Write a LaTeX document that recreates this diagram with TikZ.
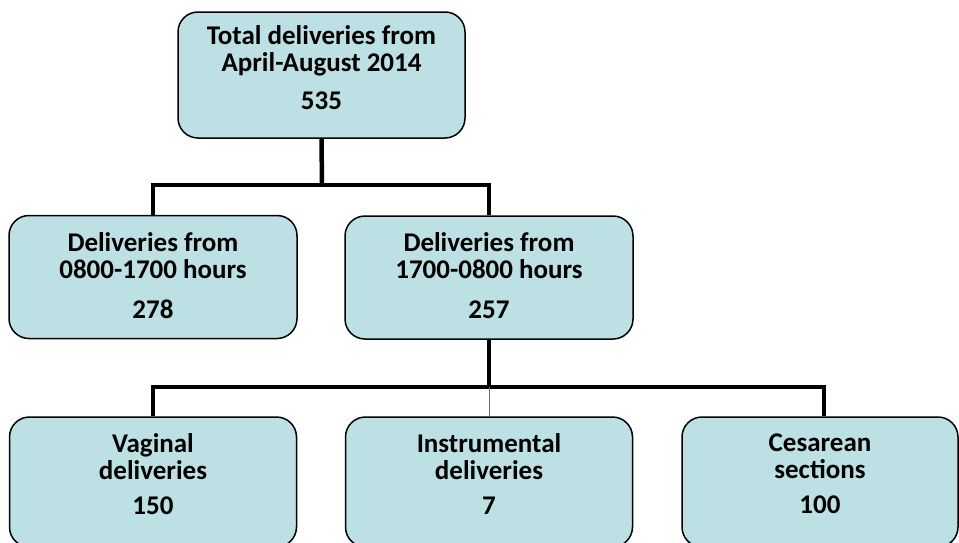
\documentclass[tikz,border=0pt]{standalone}
\usepackage{fontspec}
\setmainfont{Carlito}
\definecolor{boxfill}{RGB}{188,224,228}
\begin{document}
\begin{tikzpicture}[x=1pt,y=-1pt,
  box/.style={draw=black,line width=1.5pt,fill=boxfill,rounded corners=20pt,inner sep=0pt},
  txt/.style={align=center,inner sep=0pt,font=\fontsize{27}{27}\selectfont\bfseries},
  conn/.style={line width=4.5pt,line cap=butt},
  thin/.style={line width=0.6pt,draw=black!60}]
\useasboundingbox (0,0) rectangle (959,542);
\clip (0,0) rectangle (959,542);
\node[box,minimum width=287pt,minimum height=126pt] (top) at (321.5,75) {};
\node[box,minimum width=288pt,minimum height=123pt] (m1) at (153,277) {};
\node[box,minimum width=288pt,minimum height=123pt] (m2) at (489,277.5) {};
\node[box,minimum width=287pt,minimum height=130pt] (b1) at (153,482) {};
\node[box,minimum width=287pt,minimum height=130pt] (b2) at (489,482) {};
\node[box,minimum width=276pt,minimum height=130pt] (b3) at (820,482) {};
\node[txt] (t0) at (321.5,68) {Total deliveries from\\April-August 2014\\[11pt]535};
\node[txt] (t1) at (153,276) {Deliveries from\\0800-1700 hours\\[13pt]278};
\node[txt] (t2) at (489,276) {Deliveries from\\1700-0800 hours\\[13pt]257};
\node[txt] (t3) at (153,474) {Vaginal\\deliveries\\[8pt]150};
\node[txt] (t4) at (489,474) {Instrumental\\deliveries\\[8pt]7};
\node[txt] (t5) at (820,474) {Cesarean\\sections\\[8pt]100};
\coordinate (j1) at (322,185);
\coordinate (j2) at (489,387);
\draw[conn] (top.south) -- (j1);
\draw[conn] (m1.north) |- (j1) -| (m2.north);
\draw[conn] (m2.south) -- (j2);
\draw[conn] (b1.north) |- (j2) -| ([xshift=4pt]b3.north);
\draw[thin] (j2) -- (b2.north);
\end{tikzpicture}
\end{document}
